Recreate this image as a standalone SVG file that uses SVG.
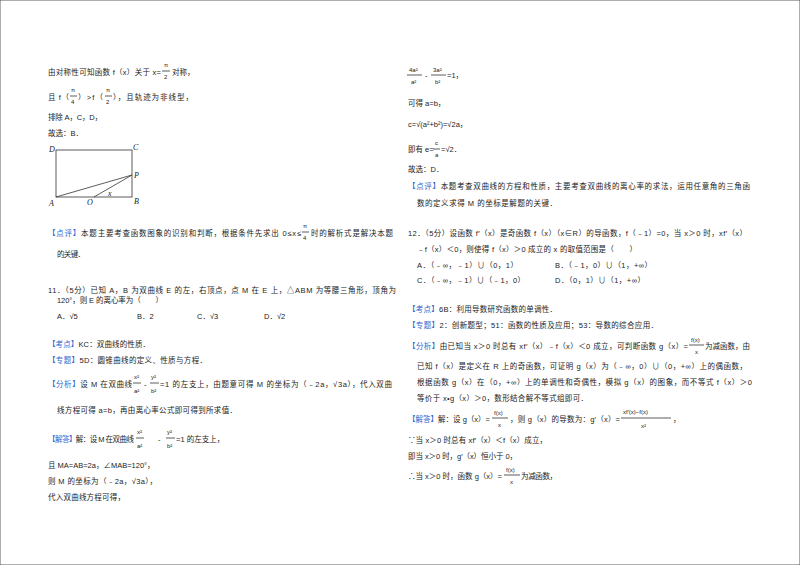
<svg xmlns="http://www.w3.org/2000/svg" width="800" height="565" viewBox="0 0 800 565">
<style>
text{font-family:"Liberation Sans","Noto Sans CJK SC",sans-serif;font-size:7.5px;fill:#222}
.s{font-size:6px}
.b{fill:#2f66d0}
.i{font-family:"Liberation Serif",serif;font-style:italic;font-size:8px}
line,rect,path{stroke:#333;stroke-width:0.8;fill:none}
</style>
<rect x="0" y="0" width="800" height="565" fill="#fff" stroke="none"/>
<g id="left">
<text x="48" y="75" textLength="113">由对称性可知函数 f（x）关于 x=</text>
<text class="s" x="164" y="67">π</text><line x1="162" y1="71" x2="170" y2="71"/><text class="s" x="164" y="79">2</text>
<text x="172" y="75">对称，</text>
<text x="48" y="100" textLength="21">且 f（</text>
<text class="s" x="71" y="92">π</text><line x1="70" y1="96" x2="77" y2="96"/><text class="s" x="71" y="104">4</text>
<text x="78" y="100" textLength="25">）&gt;f（</text>
<text class="s" x="106" y="92">π</text><line x1="105" y1="96" x2="112" y2="96"/><text class="s" x="106" y="104">2</text>
<text x="113" y="100" textLength="80">），且轨迹为非线型，</text>
<text x="48" y="120" textLength="54">排除 A，C，D，</text>
<text x="48" y="136">故选：B．</text>
<g id="figure">
<rect x="56" y="150" width="76" height="47"/>
<line x1="56" y1="197" x2="132" y2="175"/>
<line x1="94" y1="197" x2="132" y2="175"/>
<text class="i" x="49" y="152">D</text><text class="i" x="133" y="150">C</text>
<text class="i" x="134" y="178">P</text><text class="i" x="49" y="206">A</text>
<text class="i" x="87" y="205">O</text><text class="i" x="134" y="204">B</text>
<text class="i" x="108" y="196" font-size="6">x</text>
</g>
<text x="48" y="236" textLength="253"><tspan class="b">【点评】</tspan>本题主要考查函数图象的识别和判断，根据条件先求出 0≤x≤</text>
<text class="s" x="303" y="228">π</text><line x1="302" y1="232" x2="309" y2="232"/><text class="s" x="303" y="240">4</text>
<text x="311" y="236" textLength="82">时的解析式是解决本题</text>
<text x="57" y="257" textLength="28">的关键．</text>
<text x="48" y="293" textLength="348">11．（5分）已知 A，B 为双曲线 E 的左，右顶点，点 M 在 E 上，△ABM 为等腰三角形，顶角为</text>
<text x="57" y="303" textLength="106">120°，则 E 的离心率为（　　）</text>
<text x="57" y="319">A．√5</text><text x="137" y="319">B．2</text><text x="197" y="319">C．√3</text><text x="264" y="319">D．√2</text>
<text x="48" y="347" textLength="102"><tspan class="b">【考点】</tspan>KC：双曲线的性质．</text>
<text x="48" y="363" textLength="159"><tspan class="b">【专题】</tspan>5D：圆锥曲线的定义、性质与方程．</text>
<text x="48" y="387" textLength="84"><tspan class="b">【分析】</tspan>设 M 在双曲线</text>
<text class="s" x="134" y="379">x²</text><line x1="133" y1="383" x2="141" y2="383"/><text class="s" x="134" y="393">a²</text>
<text x="144" y="387">-</text>
<text class="s" x="151" y="379">y²</text><line x1="150" y1="383" x2="159" y2="383"/><text class="s" x="151" y="393">b²</text>
<text x="160" y="387" textLength="232">=1 的左支上，由题意可得 M 的坐标为（﹣2a，√3a），代入双曲</text>
<text x="57" y="413" textLength="180">线方程可得 a=b，再由离心率公式即可得到所求值．</text>
<text x="48" y="442" textLength="86"><tspan class="b">【解答】</tspan>解：设 M 在双曲线</text>
<text class="s" x="137" y="434">x²</text><line x1="136" y1="438" x2="144" y2="438"/><text class="s" x="137" y="448">a²</text>
<text x="158" y="442">-</text>
<text class="s" x="167" y="434">y²</text><line x1="166" y1="438" x2="175" y2="438"/><text class="s" x="167" y="448">b²</text>
<text x="176" y="442">=1 的左支上，</text>
<text x="48" y="468">且 MA=AB=2a，∠MAB=120°，</text>
<text x="48" y="484" textLength="109">则 M 的坐标为（﹣2a，√3a），</text>
<text x="48" y="500" textLength="77">代入双曲线方程可得，</text>
</g>
<g id="right">
<text class="s" x="409" y="72">4a²</text><line x1="407" y1="75" x2="422" y2="75"/><text class="s" x="411" y="84">a²</text>
<text x="425" y="78">-</text>
<text class="s" x="433" y="72">3a²</text><line x1="431" y1="75" x2="446" y2="75"/><text class="s" x="435" y="84">b²</text>
<text x="447" y="78">=1，</text>
<text x="408" y="106">可得 a=b，</text>
<text x="408" y="127">c=√(a²+b²)=√2a，</text>
<text x="408" y="152">即有 e=</text>
<text class="s" x="435" y="145">c</text><line x1="433" y1="149" x2="440" y2="149"/><text class="s" x="435" y="157">a</text>
<text x="441" y="152">=√2．</text>
<text x="408" y="172">故选：D．</text>
<text x="408" y="189" textLength="342"><tspan class="b">【点评】</tspan>本题考查双曲线的方程和性质，主要考查双曲线的离心率的求法，运用任意角的三角函</text>
<text x="417" y="206" textLength="140">数的定义求得 M 的坐标是解题的关键．</text>
<text x="408" y="236" textLength="339">12．（5分）设函数 f′（x）是奇函数 f（x）（x∈R）的导函数，f（﹣1）=0，当 x＞0 时，xf′（x）</text>
<text x="417" y="252" textLength="220">﹣f（x）＜0，则使得 f（x）＞0 成立的 x 的取值范围是（　　）</text>
<text x="417" y="268" textLength="101">A．（﹣∞，﹣1）∪（0，1）</text><text x="555" y="268" textLength="97">B．（﹣1，0）∪（1，+∞）</text>
<text x="417" y="283" textLength="108">C．（﹣∞，﹣1）∪（﹣1，0）</text><text x="555" y="283" textLength="90">D．（0，1）∪（1，+∞）</text>
<text x="408" y="312" textLength="149"><tspan class="b">【考点】</tspan>6B：利用导数研究函数的单调性．</text>
<text x="408" y="328" textLength="250"><tspan class="b">【专题】</tspan>2：创新题型；51：函数的性质及应用；53：导数的综合应用．</text>
<text x="408" y="349" textLength="280"><tspan class="b">【分析】</tspan>由已知当 x＞0 时总有 xf′（x）﹣f（x）＜0 成立，可判断函数 g（x）=</text>
<text class="s" x="691" y="342">f(x)</text><line x1="689" y1="345" x2="704" y2="345"/><text class="s" x="695" y="354">x</text>
<text x="705" y="349" textLength="45">为减函数，由</text>
<text x="417" y="369" textLength="330">已知 f（x）是定义在 R 上的奇函数，可证明 g（x）为（﹣∞，0）∪（0，+∞）上的偶函数，</text>
<text x="417" y="385" textLength="335">根据函数 g（x）在（0，+∞）上的单调性和奇偶性，模拟 g（x）的图象，而不等式 f（x）＞0</text>
<text x="417" y="401" textLength="171">等价于 x•g（x）＞0，数形结合解不等式组即可．</text>
<text x="408" y="422" textLength="82"><tspan class="b">【解答】</tspan>解：设 g（x）=</text>
<text class="s" x="494" y="415">f(x)</text><line x1="492" y1="418" x2="508" y2="418"/><text class="s" x="498" y="427">x</text>
<text x="510" y="422" textLength="110">，则 g（x）的导数为：g′（x）=</text>
<text class="s" x="623" y="414">xf′(x)−f(x)</text><line x1="621" y1="418" x2="671" y2="418"/><text class="s" x="641" y="428">x²</text>
<text x="673" y="422">，</text>
<text x="408" y="443" textLength="139">∵当 x＞0 时总有 xf′（x）＜f（x）成立，</text>
<text x="408" y="459" textLength="109">即当 x＞0 时，g′（x）恒小于 0，</text>
<text x="408" y="479" textLength="94">∴当 x＞0 时，函数 g（x）=</text>
<text class="s" x="506" y="472">f(x)</text><line x1="504" y1="475" x2="520" y2="475"/><text class="s" x="510" y="484">x</text>
<text x="521" y="479" textLength="36">为减函数，</text>
</g>
</svg>
